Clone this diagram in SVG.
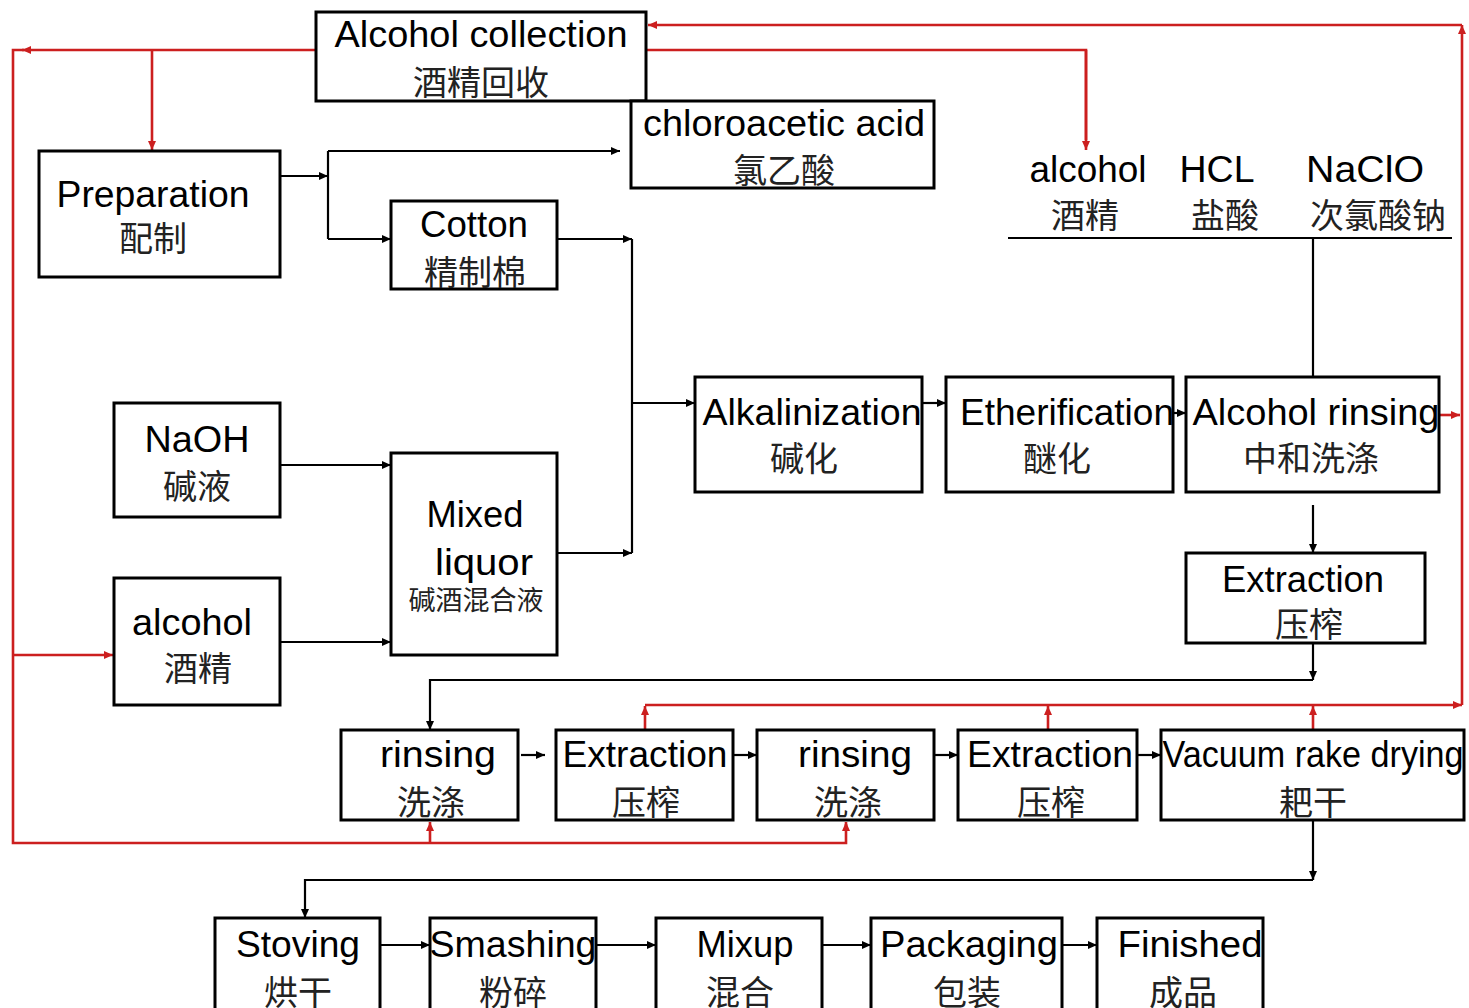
<svg xmlns="http://www.w3.org/2000/svg" width="1469" height="1008" viewBox="0 0 1469 1008">
<defs>
<marker id="ab" markerUnits="userSpaceOnUse" markerWidth="10" markerHeight="8" refX="9" refY="4" orient="auto"><path d="M0,0 L9,4 L0,8 z" fill="#000"/></marker>
<marker id="ar" markerUnits="userSpaceOnUse" markerWidth="10" markerHeight="8" refX="9" refY="4" orient="auto"><path d="M0,0 L9,4 L0,8 z" fill="#cc1f1f"/></marker>
<style>
.box{fill:#fff;stroke:#000;stroke-width:3}
.en{font-family:"Liberation Sans",Arial,sans-serif;font-size:37px;fill:#000;text-anchor:middle}
.zh{font-family:"Noto Sans CJK SC","Liberation Sans",sans-serif;font-size:34px;fill:#222;text-anchor:middle}
.zs{font-family:"Noto Sans CJK SC","Liberation Sans",sans-serif;font-size:27px;fill:#222;text-anchor:middle}
.bl{fill:none;stroke:#000;stroke-width:2.2}
.ba{fill:none;stroke:#000;stroke-width:2.2;marker-end:url(#ab)}
.rl{fill:none;stroke:#cc1f1f;stroke-width:2.6}
.ra{fill:none;stroke:#cc1f1f;stroke-width:2.6;marker-end:url(#ar)}
</style>
</defs>
<rect width="1469" height="1008" fill="#fff"/>
<g id="connectors">
<path class="ra" d="M316 50 H22"/>
<path class="rl" d="M24 50 H13 V843 H846 V824"/>
<path class="ra" d="M846 830 V822"/>
<path class="ra" d="M430 843 V822"/>
<path class="ra" d="M152 50 V150"/>
<path class="ra" d="M13 655 H113"/>
<path class="rl" d="M646 50 H1086 V140"/>
<path class="ra" d="M1086 50 V150"/>
<path class="ra" d="M1462 705 V25"/>
<path class="ra" d="M1462 25 H648"/>
<path class="ra" d="M1440 415 H1460"/>
<path class="ra" d="M645 705 H1462"/>
<path class="ra" d="M645 730 V706"/>
<path class="ra" d="M1048 730 V706"/>
<path class="ra" d="M1313 730 V706"/>
<path class="ba" d="M280 176 H328"/>
<path class="bl" d="M328 151 V239"/>
<path class="ba" d="M328 151 H620"/>
<path class="ba" d="M328 239 H391"/>
<path class="ba" d="M557 239 H632"/>
<path class="bl" d="M632 239 V553"/>
<path class="ba" d="M557 553 H632"/>
<path class="ba" d="M632 403 H695"/>
<path class="ba" d="M280 465 H391"/>
<path class="ba" d="M280 642 H391"/>
<path class="ba" d="M922 403 H946"/>
<path class="ba" d="M1173 413 H1186"/>
<path class="bl" d="M1008 238 H1452"/>
<path class="bl" d="M1313 238 V377"/>
<path class="ba" d="M1313 505 V553"/>
<path class="ba" d="M1313 643 V680"/>
<path class="ba" d="M1313 680 H430 V730"/>
<path class="ba" d="M521 755 H545"/>
<path class="ba" d="M733 755 H757"/>
<path class="ba" d="M934 755 H958"/>
<path class="ba" d="M1137 755 H1161"/>
<path class="bl" d="M1313 820 V880"/>
<path class="ba" d="M1313 870 V880"/>
<path class="ba" d="M1313 880 H305 V918"/>
<path class="ba" d="M380 945 H430"/>
<path class="ba" d="M596 945 H656"/>
<path class="ba" d="M822 945 H871"/>
<path class="ba" d="M1062 945 H1097"/>
</g>
<g id="alcohol-collection"><rect class="box" x="316" y="12" width="330" height="89"/><text class="en" x="481" y="47" textLength="293" lengthAdjust="spacingAndGlyphs">Alcohol collection</text><text class="zh" x="481" y="95">酒精回收</text></g>
<g id="preparation"><rect class="box" x="39" y="151" width="241" height="126"/><text class="en" x="153" y="207" textLength="193" lengthAdjust="spacingAndGlyphs">Preparation</text><text class="zh" x="153" y="251">配制</text></g>
<g id="chloroacetic"><rect class="box" x="631" y="101" width="303" height="87"/><text class="en" x="784" y="136" textLength="282" lengthAdjust="spacingAndGlyphs">chloroacetic acid</text><text class="zh" x="784" y="183">氯乙酸</text></g>
<g id="cotton"><rect class="box" x="391" y="201" width="166" height="88"/><text class="en" x="474" y="237" textLength="108" lengthAdjust="spacingAndGlyphs">Cotton</text><text class="zh" x="475" y="285">精制棉</text></g>
<g id="naoh"><rect class="box" x="114" y="403" width="166" height="114"/><text class="en" x="197" y="452" textLength="105" lengthAdjust="spacingAndGlyphs">NaOH</text><text class="zh" x="197" y="499">碱液</text></g>
<g id="alcohol"><rect class="box" x="114" y="578" width="166" height="127"/><text class="en" x="192" y="635" textLength="120" lengthAdjust="spacingAndGlyphs">alcohol</text><text class="zh" x="198" y="681">酒精</text></g>
<g id="mixed-liquor"><rect class="box" x="391" y="453" width="166" height="202"/><text class="en" x="475" y="527" textLength="97" lengthAdjust="spacingAndGlyphs">Mixed</text><text class="en" x="484" y="575" textLength="98" lengthAdjust="spacingAndGlyphs">liquor</text><text class="zs" x="476" y="610">碱酒混合液</text></g>
<g id="alkalinization"><rect class="box" x="695" y="377" width="227" height="115"/><text class="en" x="812" y="425" textLength="219" lengthAdjust="spacingAndGlyphs">Alkalinization</text><text class="zh" x="804" y="471">碱化</text></g>
<g id="etherification"><rect class="box" x="946" y="377" width="227" height="115"/><text class="en" x="1067" y="425" textLength="214" lengthAdjust="spacingAndGlyphs">Etherification</text><text class="zh" x="1057" y="471">醚化</text></g>
<g id="alcohol-rinsing"><rect class="box" x="1186" y="377" width="253" height="115"/><text class="en" x="1316" y="425" textLength="247" lengthAdjust="spacingAndGlyphs">Alcohol rinsing</text><text class="zh" x="1311" y="471">中和洗涤</text></g>
<g id="reagents"><text class="en" x="1088" y="182" textLength="117" lengthAdjust="spacingAndGlyphs">alcohol</text><text class="zh" x="1085" y="228">酒精</text><text class="en" x="1217" y="182" textLength="75" lengthAdjust="spacingAndGlyphs">HCL</text><text class="zh" x="1225" y="228">盐酸</text><text class="en" x="1365" y="182" textLength="118" lengthAdjust="spacingAndGlyphs">NaClO</text><text class="zh" x="1378" y="228">次氯酸钠</text></g>
<g id="extraction-1"><rect class="box" x="1186" y="553" width="239" height="90"/><text class="en" x="1303" y="592" textLength="162" lengthAdjust="spacingAndGlyphs">Extraction</text><text class="zh" x="1309" y="637">压榨</text></g>
<g id="rinsing-1"><rect class="box" x="341" y="730" width="177" height="90"/><text class="en" x="438" y="767" textLength="116" lengthAdjust="spacingAndGlyphs">rinsing</text><text class="zh" x="431" y="815">洗涤</text></g>
<g id="extraction-2"><rect class="box" x="556" y="730" width="177" height="90"/><text class="en" x="645" y="767" textLength="165" lengthAdjust="spacingAndGlyphs">Extraction</text><text class="zh" x="646" y="815">压榨</text></g>
<g id="rinsing-2"><rect class="box" x="757" y="730" width="177" height="90"/><text class="en" x="855" y="767" textLength="114" lengthAdjust="spacingAndGlyphs">rinsing</text><text class="zh" x="848" y="815">洗涤</text></g>
<g id="extraction-3"><rect class="box" x="958" y="730" width="179" height="90"/><text class="en" x="1050" y="767" textLength="166" lengthAdjust="spacingAndGlyphs">Extraction</text><text class="zh" x="1051" y="815">压榨</text></g>
<g id="vacuum"><rect class="box" x="1161" y="730" width="303" height="90"/><text class="en" x="1313" y="767" textLength="301" lengthAdjust="spacingAndGlyphs">Vacuum rake drying</text><text class="zh" x="1313" y="815">耙干</text></g>
<g id="stoving"><rect class="box" x="215" y="918" width="165" height="100"/><text class="en" x="298" y="957" textLength="124" lengthAdjust="spacingAndGlyphs">Stoving</text><text class="zh" x="298" y="1005">烘干</text></g>
<g id="smashing"><rect class="box" x="430" y="918" width="166" height="100"/><text class="en" x="513" y="957" textLength="167" lengthAdjust="spacingAndGlyphs">Smashing</text><text class="zh" x="513" y="1005">粉碎</text></g>
<g id="mixup"><rect class="box" x="656" y="918" width="166" height="100"/><text class="en" x="745" y="957" textLength="97" lengthAdjust="spacingAndGlyphs">Mixup</text><text class="zh" x="740" y="1005">混合</text></g>
<g id="packaging"><rect class="box" x="871" y="918" width="191" height="100"/><text class="en" x="969" y="957" textLength="178" lengthAdjust="spacingAndGlyphs">Packaging</text><text class="zh" x="967" y="1005">包装</text></g>
<g id="finished"><rect class="box" x="1097" y="918" width="166" height="100"/><text class="en" x="1190" y="957" textLength="145" lengthAdjust="spacingAndGlyphs">Finished</text><text class="zh" x="1183" y="1005">成品</text></g>
</svg>
